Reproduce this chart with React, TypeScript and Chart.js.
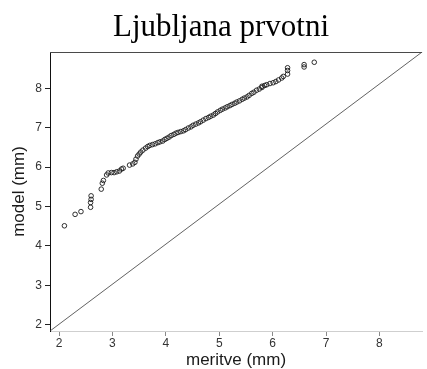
import React, { useEffect, useRef } from "react";
import { Chart, registerables } from "chart.js";

Chart.register(...registerables);

const TITLE = "Ljubljana prvotni";
const X_LABEL = "meritve (mm)";
const Y_LABEL = "model (mm)";

// axis ranges
const X_RANGE = [1.83, 8.8];
const Y_RANGE = [1.84, 8.92];

// measured values (meritve) and modelled values (model), paired by index
const meritve = [
  2.1, 2.3, 2.41, 2.59, 2.59, 2.6, 2.6, 2.79, 2.81, 2.83, 2.89, 2.92, 2.98, 3.03, 3.08,
  3.13, 3.17, 3.2, 3.32, 3.38, 3.42, 3.44, 3.47, 3.5, 3.53, 3.57, 3.62, 3.66, 3.7, 3.75,
  3.8, 3.85, 3.89, 3.94, 3.98, 4.02, 4.06, 4.1, 4.15, 4.19, 4.23, 4.28, 4.33, 4.37, 4.42,
  4.47, 4.51, 4.56, 4.61, 4.65, 4.7, 4.75, 4.8, 4.84, 4.89, 4.93, 4.97, 5.02, 5.06, 5.11,
  5.15, 5.2, 5.24, 5.29, 5.33, 5.38, 5.43, 5.47, 5.52, 5.56, 5.61, 5.65, 5.7, 5.75, 5.8,
  5.8, 5.85, 5.89, 5.95, 6.01, 6.06, 6.11, 6.17, 6.2, 6.28, 6.28, 6.28, 6.59, 6.59, 6.78,
];
const model = [
  4.51, 4.8, 4.87, 4.98, 5.1, 5.18, 5.27, 5.44, 5.59, 5.66, 5.8, 5.85, 5.86, 5.86, 5.88,
  5.9, 5.95, 5.97, 6.05, 6.08, 6.12, 6.2, 6.28, 6.33, 6.38, 6.43, 6.48, 6.52, 6.55, 6.57,
  6.59, 6.62, 6.64, 6.66, 6.7, 6.73, 6.76, 6.8, 6.83, 6.86, 6.88, 6.9, 6.92, 6.95, 6.99,
  7.02, 7.06, 7.09, 7.12, 7.15, 7.19, 7.23, 7.26, 7.29, 7.32, 7.36, 7.4, 7.44, 7.47, 7.5,
  7.53, 7.56, 7.59, 7.62, 7.65, 7.68, 7.72, 7.75, 7.78, 7.82, 7.87, 7.9, 7.95, 7.98, 8.02,
  8.05, 8.07, 8.09, 8.12, 8.14, 8.17, 8.21, 8.26, 8.3, 8.36, 8.45, 8.52, 8.54, 8.6, 8.66,
];

const SANS = "'Liberation Sans', Arial, sans-serif";

// title and top frame line
const framePlugin = {
  id: "frame",
  afterDraw(chart: any) {
    const { ctx, chartArea } = chart;
    ctx.save();
    ctx.strokeStyle = "#4a4a4a";
    ctx.lineWidth = 1;
    ctx.beginPath();
    ctx.moveTo(chartArea.left, chartArea.top + 0.5);
    ctx.lineTo(chartArea.right, chartArea.top + 0.5);
    ctx.stroke();
    ctx.fillStyle = "#000";
    ctx.font = "31px 'Liberation Serif', 'Times New Roman', serif";
    ctx.textAlign = "center";
    ctx.textBaseline = "alphabetic";
    ctx.fillText(TITLE, 221, 36);
    ctx.restore();
  },
};

export default function App() {
  const canvasRef = useRef<HTMLCanvasElement | null>(null);

  useEffect(() => {
    document.body.style.margin = "0";
    const canvas = canvasRef.current;
    if (!canvas) return;

    const points = meritve.map((x, i) => ({ x, y: model[i] }));

    const chart = new Chart(canvas, {
      type: "scatter",
      data: {
        datasets: [
          {
            // reference diagonal across the plotting region
            type: "line",
            data: [
              { x: X_RANGE[0], y: Y_RANGE[0] },
              { x: X_RANGE[1], y: Y_RANGE[1] },
            ],
            borderColor: "#3a3a3a",
            borderWidth: 0.8,
            pointRadius: 0,
            fill: false,
          } as any,
          {
            data: points,
            pointStyle: "circle",
            pointRadius: 2.3,
            pointBorderWidth: 0.9,
            borderColor: "#1a1a1a",
            backgroundColor: "rgba(255,255,255,0)",
          },
        ],
      },
      options: {
        animation: false,
        responsive: true,
        maintainAspectRatio: false,
        layout: { padding: { top: 52, left: 0, right: 0, bottom: 0 } },
        plugins: {
          legend: { display: false },
          tooltip: { enabled: false },
          title: { display: false },
        },
        scales: {
          x: {
            type: "linear",
            min: X_RANGE[0],
            max: X_RANGE[1],
            afterFit(scale: any) {
              scale.height = 38;
            },
            ticks: {
              stepSize: 1,
              includeBounds: false,
              color: "#333",
              padding: 0,
              font: { family: SANS, size: 12 },
            },
            grid: {
              drawOnChartArea: false,
              drawTicks: true,
              tickLength: 5,
              tickColor: "#8a8a8a",
            },
            border: { display: true, color: "#cfcfcf", width: 1 },
            title: {
              display: true,
              text: X_LABEL,
              color: "#1a1a1a",
              font: { family: SANS, size: 17, lineHeight: 1 },
              padding: { top: 0, bottom: 0.5 },
            },
          },
          y: {
            type: "linear",
            min: Y_RANGE[0],
            max: Y_RANGE[1],
            afterFit(scale: any) {
              scale.width = 50;
            },
            ticks: {
              stepSize: 1,
              includeBounds: false,
              color: "#333",
              padding: 3,
              font: { family: SANS, size: 12 },
            },
            grid: {
              drawOnChartArea: false,
              drawTicks: true,
              tickLength: 5,
              tickColor: "#222",
            },
            border: { display: true, color: "#111", width: 1 },
            title: {
              display: true,
              text: Y_LABEL,
              color: "#1a1a1a",
              font: { family: SANS, size: 17, lineHeight: 1 },
              padding: { top: 10.5, bottom: 0 },
            },
          },
        },
      },
      plugins: [framePlugin],
    });

    return () => chart.destroy();
  }, []);

  return (
    <div style={{ position: "relative", width: 427, height: 369 }}>
      <canvas ref={canvasRef} />
    </div>
  );
}
